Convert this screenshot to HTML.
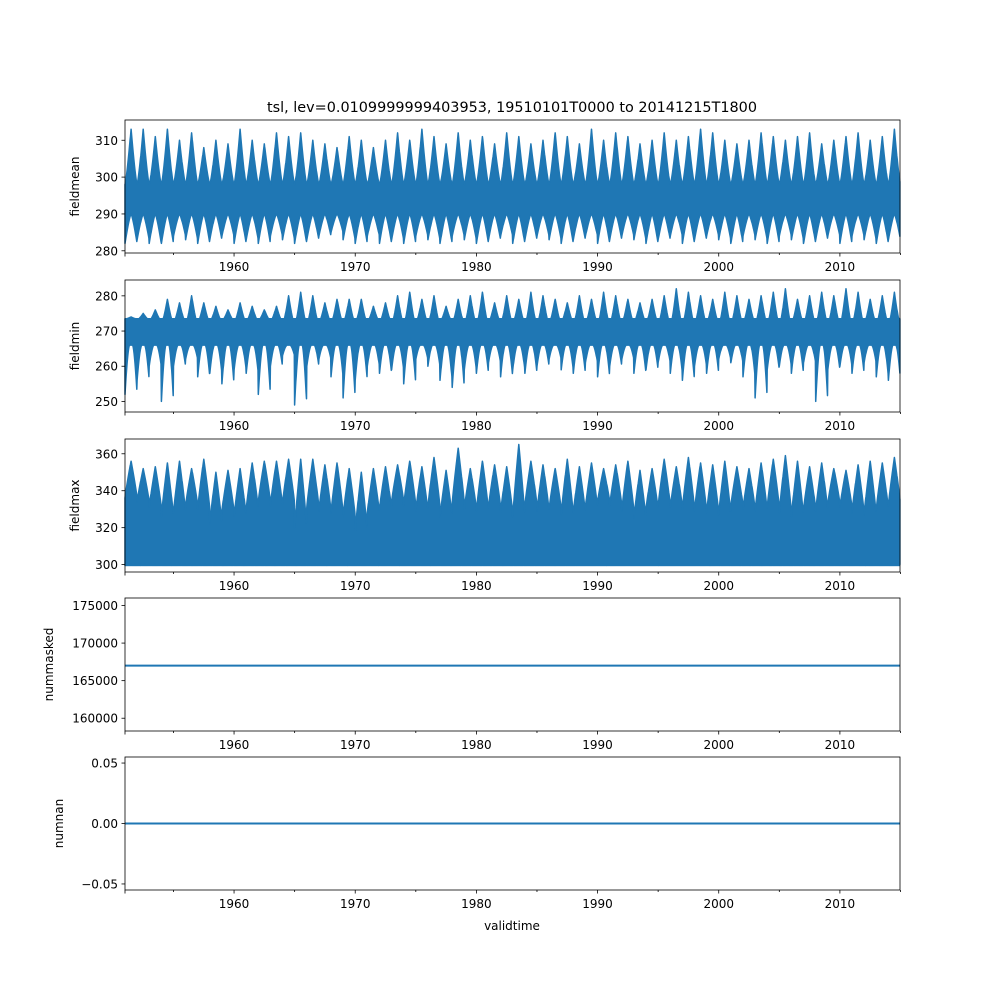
<!DOCTYPE html>
<html><head><meta charset="utf-8"><style>
body{margin:0;background:#fff;font-family:"Liberation Sans","DejaVu Sans",sans-serif}
svg text{font-family:"DejaVu Sans","Liberation Sans",sans-serif;font-size:12px;fill:#000}
</style></head><body>
<svg id="c" width="1000" height="1000"></svg>
<script>
const years=[];for(let y=1951;y<=2014;y++)years.push(y);
const meanPeak=[313,313,311,313,310,312,308,310,309,313,310,309,312,311,312,310,309,308,311,310,308,310,312,310,313,311,309,312,310,311,309,312,311,309,310,312,311,309,313,310,312,311,309,310,312,310,311,313,312,310,309,310,312,311,310,311,312,309,310,311,312,310,311,313];
const meanTrough=[282,283,282,282,284,283,282,283,284,282,283,282,284,283,282,283,284,285,283,282,284,282,283,282,284,283,282,284,283,282,283,284,282,283,284,283,282,283,284,282,283,284,283,282,283,284,282,283,284,283,282,284,283,282,284,283,282,283,284,282,284,283,282,283];
const minPeak=[274,275,276,279,278,280,278,277,276,278,277,276,277,280,281,280,278,279,279,279,277,278,280,281,279,280,277,279,280,281,278,280,279,281,280,279,278,280,279,281,280,279,278,279,280,282,281,280,279,281,280,279,280,281,282,279,280,281,280,282,281,279,280,281];
const minTrough=[252,256,260,250,260,262,257,258,255,259,258,252,260,263,249,260,262,257,251,256,260,258,259,255,262,260,256,254,259,258,261,257,259,258,260,262,259,258,261,257,260,262,258,259,261,258,256,260,258,262,261,257,251,259,260,258,261,250,259,260,258,261,257,256];
const maxPeak=[356,352,353,355,356,352,357,350,351,352,355,356,356,357,357,357,354,355,352,350,352,353,354,356,353,358,351,363,352,356,354,353,365,356,354,352,357,353,355,352,354,356,351,352,357,353,358,355,354,356,353,352,355,357,359,356,353,355,352,351,354,356,355,358];
const maxTrough=[336,334,331,326,328,332,330,322,329,326,330,334,332,333,320,331,329,328,326,318,328,330,334,332,329,331,326,333,330,329,331,328,326,332,329,330,327,328,331,334,332,329,325,330,332,331,330,329,328,327,332,330,329,331,328,326,330,329,333,331,328,327,330,332];
const maskedVal=167000, nanVal=0;
const xTicks=[1960,1970,1980,1990,2000,2010];
const svg=document.getElementById('c');const NS='http://www.w3.org/2000/svg';
const X0=125,X1=900,T0=1951,T1=2014.96;
const xs=t=>X0+(t-T0)/(T1-T0)*(X1-X0);
function el(tag,at,p){const e=document.createElementNS(NS,tag);for(const k in at)e.setAttribute(k,at[k]);(p||svg).appendChild(e);return e;}
const panels=[
{name:'fieldmean',top:120,bot:253,lo:279.4,hi:315.5,ticks:[280,290,300,310],fmt:v=>v},
{name:'fieldmin',top:280,bot:412,lo:247,hi:284.5,ticks:[250,260,270,280],fmt:v=>v},
{name:'fieldmax',top:439,bot:572,lo:296,hi:368,ticks:[300,320,340,360],fmt:v=>v},
{name:'nummasked',top:598,bot:731,lo:158300,hi:176000,ticks:[160000,165000,170000,175000],fmt:v=>v},
{name:'numnan',top:757,bot:890,lo:-0.055,hi:0.055,ticks:[-0.05,0,0.05],fmt:v=>v.toFixed(2).replace('-','\u2212')}];
panels.forEach((P,i)=>{
 const g=el('g',{});
 
 
 const ys=v=>P.bot-(v-P.lo)/(P.hi-P.lo)*(P.bot-P.top);
 const N=40;let top=[],bot=[];
 years.forEach((y,k)=>{for(let s=0;s<N;s++){const f=s/N,t=y+f;if(t>T1)break;
  const tri=1-2*Math.abs(f-0.5);
  let a,b;
  if(i==0){a=298+(meanPeak[k]-298)*Math.pow(tri,1.3);b=290-(290-meanTrough[k])*Math.pow(1-tri,1.3);}
  else if(i==1){a=273.5+(minPeak[k]-273.5)*Math.pow(Math.max(0,tri-0.3)/0.7,1.2);b=266-(266-minTrough[k])*Math.pow(Math.max(0,0.75-tri)/0.75,1.6);}
  else if(i==2){const tr=maxTrough[k];a=tr+(maxPeak[k]-tr)*Math.pow(tri,0.9);b=299.5+((s*7+k)%3)*0.3;}
  else break;
  top.push([xs(t),ys(a)]);bot.push([xs(t),ys(b)]);}});
 if(i<3){const pts=top.concat(bot.reverse()).map(p=>p[0].toFixed(1)+','+p[1].toFixed(1)).join(' ');
  const s=el('polygon',{points:pts,fill:'#1f77b4',stroke:'#1f77b4','stroke-width':1.5,'stroke-linejoin':'round'},g);
  
  }
 else{const v=i==3?maskedVal:nanVal;
  const l=el('line',{x1:X0,x2:X1,y1:ys(v),y2:ys(v),stroke:'#1f77b4','stroke-width':2},g);
  
  }
 el('rect',{x:X0,y:P.top,width:X1-X0,height:P.bot-P.top,fill:'none',stroke:'#000','stroke-width':0.8},g);
 P.ticks.forEach(v=>{const y=ys(v);el('line',{x1:X0-3.5,x2:X0,y1:y,y2:y,stroke:'#000','stroke-width':0.8},g);
  const t=el('text',{x:X0-7,y:y+4.5,'text-anchor':'end'},g);t.textContent=P.fmt(v);
  
  });
 for(let y=1955;y<=2015;y+=5){const x=xs(y);const maj=y%10==0;
  el('line',{x1:x,x2:x,y1:P.bot,y2:P.bot+(maj?3.5:2),stroke:'#000','stroke-width':0.8},g);}
 el('line',{x1:X0,x2:X0,y1:P.bot,y2:P.bot+3.5,stroke:'#000','stroke-width':0.8},g);
 xTicks.forEach(y=>{const t=el('text',{x:xs(y),y:P.bot+18,'text-anchor':'middle'},g);t.textContent=y;
  
  });
 const yl=el('text',{x:0,y:0,'text-anchor':'middle',transform:`translate(${i==3?53:i==4?63:79},${(P.top+P.bot)/2}) rotate(-90)`},g);
 yl.textContent=P.name;
 
 
});
const tt=el('text',{x:512,y:112,'text-anchor':'middle'});tt.style.fontSize='14.4px';
tt.textContent='tsl, lev=0.0109999999403953, 19510101T0000 to 20141215T1800';


const xl=el('text',{x:512,y:930,'text-anchor':'middle'});xl.textContent='validtime';


</script>
</body></html>
